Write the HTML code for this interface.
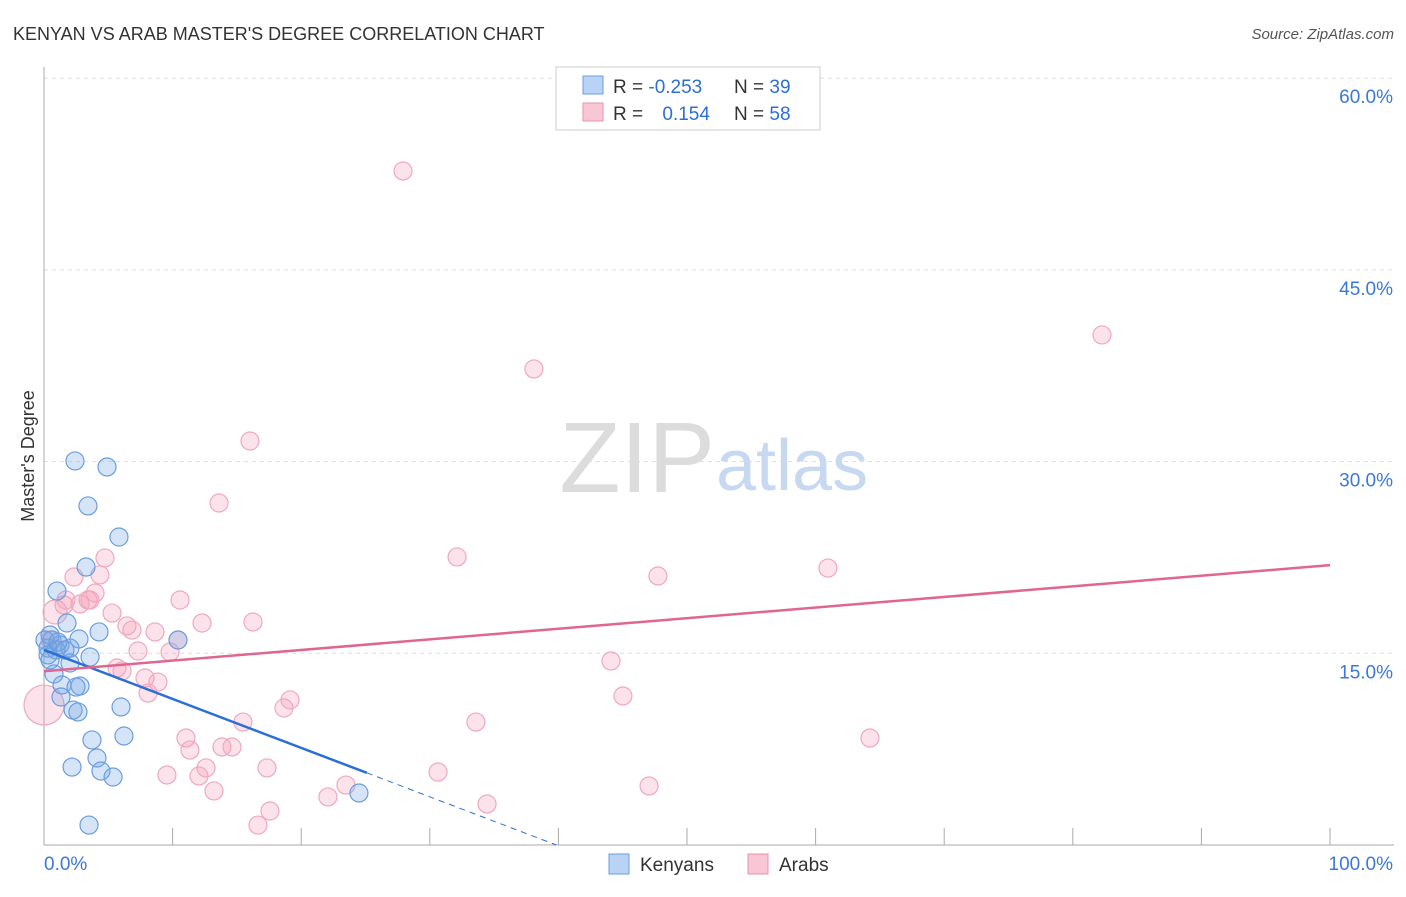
<!DOCTYPE html>
<html><head><meta charset="utf-8"><style>
body{margin:0;background:#fff;font-family:"Liberation Sans",sans-serif}
svg text{font-family:"Liberation Sans",sans-serif}
</style></head><body>
<svg id="chart" width="1406" height="892" xmlns="http://www.w3.org/2000/svg">
<text x="13" y="40" font-size="18" fill="#333">KENYAN VS ARAB MASTER'S DEGREE CORRELATION CHART</text>
<text x="1394" y="39" font-size="15" fill="#555" text-anchor="end" font-style="italic">Source: ZipAtlas.com</text>
<text x="34" y="456" font-size="18" fill="#333" text-anchor="middle" transform="rotate(-90 34 456)">Master's Degree</text>
<g id="grid"></g>
<text x="715" y="492" font-size="100" fill="#dcdcdc" text-anchor="end" font-family="Liberation Serif">ZIP</text>
<text x="716" y="490" font-size="72" fill="#c7d9f0">atlas</text>
<g id="marks"></g>
<g>
<rect x="556" y="67" width="264" height="63" fill="#fff" stroke="#ccc"/>
<rect x="583" y="76" width="20" height="18" fill="#b9d3f5" stroke="#6b9be0"/>
<text x="613" y="93" font-size="19" fill="#333">R = <tspan fill="#2b6fd6">-0.253</tspan></text>
<text x="734" y="93" font-size="19" fill="#333">N = <tspan fill="#2b6fd6">39</tspan></text>
<rect x="583" y="103" width="20" height="18" fill="#f9c6d5" stroke="#e890aa"/>
<text x="613" y="120" font-size="19" fill="#333">R = <tspan fill="#2b6fd6" dx="14">0.154</tspan></text>
<text x="734" y="120" font-size="19" fill="#333">N = <tspan fill="#2b6fd6">58</tspan></text>
</g>
<g>
<rect x="609" y="854" width="20" height="20" fill="#b9d3f5" stroke="#6b9be0"/>
<text x="640" y="871" font-size="19" fill="#333">Kenyans</text>
<rect x="748" y="854" width="20" height="20" fill="#f9c6d5" stroke="#e890aa"/>
<text x="779" y="871" font-size="19" fill="#333">Arabs</text>
</g>
</svg>
<script>
const kenX=[2.41,4.90,3.42,5.83,3.27,1.01,1.79,4.28,2.72,10.42,0.62,1.24,0.31,2.02,3.58,0.78,2.02,1.40,2.80,2.49,1.32,2.26,2.64,5.99,3.73,6.22,2.18,4.12,4.43,5.37,24.49,3.50,0.47,0.08,0.93,0.31,1.63,0.47,1.09];
const kenY=[30.05,29.58,26.53,24.10,21.75,19.87,17.37,16.67,16.12,16.04,16.04,15.65,15.41,15.41,14.71,13.38,14.24,12.52,12.44,12.36,11.58,10.56,10.41,10.80,8.22,8.53,6.10,6.81,5.79,5.32,4.07,1.56,16.43,16.04,15.26,14.87,15.26,14.48,15.88];
const arbX=[27.92,82.27,38.10,16.02,13.61,32.12,4.74,2.33,4.35,47.74,60.96,3.97,3.42,2.80,1.56,0.86,10.58,5.29,12.29,16.25,6.45,6.84,8.63,10.42,9.80,7.31,5.68,6.07,7.85,8.86,8.09,15.47,18.66,19.13,33.59,44.09,45.02,11.04,11.35,13.84,14.62,12.60,9.56,12.05,17.34,13.22,30.64,22.08,23.48,34.45,47.05,64.23,17.57,16.64,0,1.71,3.58,0.47];
const arbY=[52.74,39.91,37.25,31.61,26.76,22.54,22.46,20.97,21.13,21.05,21.67,19.72,19.17,18.86,18.78,18.23,19.17,18.15,17.37,17.45,17.14,16.82,16.67,16.04,15.10,15.18,13.85,13.62,13.07,12.75,11.89,9.62,10.72,11.35,9.62,14.40,11.66,8.37,7.43,7.67,7.67,6.03,5.48,5.40,6.03,4.23,5.71,3.76,4.69,3.21,4.62,8.37,2.66,1.56,10.95,19.17,19.17,16.04];
const yTicks=[15,30,45,60];
const yTickLabels=["15.0%","30.0%","45.0%","60.0%"];
const kenTrend=[15.26,-0.383];
const arbTrend=[13.6,0.083];
const X=v=>44+v*12.86, Y=v=>845-v*12.78;
const NS="http://www.w3.org/2000/svg";
const grid=document.getElementById('grid'), marks=document.getElementById('marks');
function mk(tag,attrs,parent){const e=document.createElementNS(NS,tag);for(const k in attrs)e.setAttribute(k,attrs[k]);parent.appendChild(e);return e;}
yTicks.forEach((t,i)=>{
 const l=mk('line',{x1:44,x2:1394,y1:Y(t),y2:Y(t),stroke:'#ddd','stroke-dasharray':'4,4'},grid);
 
 
 const tx=mk('text',{x:1393,y:Y(t)+25,'font-size':19,fill:'#3b78d8','text-anchor':'end'},grid);
 tx.textContent=yTickLabels[i];
 
 
});
const ax=mk('line',{x1:44,x2:44,y1:67,y2:845,stroke:'#aaa'},grid);


const bx=mk('line',{x1:44,x2:1394,y1:845,y2:845,stroke:'#aaa'},grid);


for(let i=0;i<=10;i++){const t=mk('line',{x1:X(i*10),x2:X(i*10),y1:828,y2:845,stroke:'#aaa'},grid);
 
 }
[["0.0%",44,"start"],["100.0%",1393,"end"]].forEach(a=>{const t=mk('text',{x:a[1],y:870,'font-size':19,fill:'#3b78d8','text-anchor':a[2]},grid);t.textContent=a[0];
 
 });
arbX.forEach((v,i)=>{const big=(i==54||i==15);
 const c=mk('circle',{cx:X(v),cy:Y(arbY[i]),r:big?(i==54?20:12):9,fill:'rgba(244,160,186,0.3)',stroke:'#f0a8be','stroke-width':1.2},marks);
 
 });
kenX.forEach((v,i)=>{
 const c=mk('circle',{cx:X(v),cy:Y(kenY[i]),r:9,fill:'rgba(120,165,230,0.3)',stroke:'#6a9de0','stroke-width':1.2},marks);
 
 });
const x0=-kenTrend[0]/kenTrend[1];
const kl=mk('line',{x1:X(0),y1:Y(kenTrend[0]),x2:X(25.1),y2:Y(kenTrend[0]+kenTrend[1]*25.1),stroke:'#2a6fd6','stroke-width':2.5},marks);


const kd=mk('line',{x1:X(25.1),y1:Y(kenTrend[0]+kenTrend[1]*25.1),x2:X(x0),y2:Y(0),stroke:'#2a6fd6','stroke-width':1,'stroke-dasharray':'6,5'},marks);


const al=mk('line',{x1:X(0),y1:Y(arbTrend[0]),x2:X(100),y2:Y(arbTrend[0]+arbTrend[1]*100),stroke:'#e06592','stroke-width':2.5},marks);


</script>
</body></html>
